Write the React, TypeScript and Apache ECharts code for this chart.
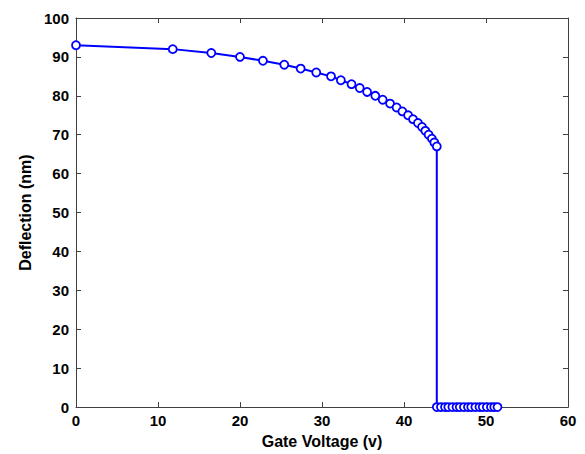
import React, { useEffect, useRef } from "react";
import * as echarts from "echarts";

const gateVoltage = [
  0, 11.8, 16.5, 20.0, 22.8, 25.4, 27.4, 29.3, 31.1, 32.3, 33.6, 34.6, 35.5, 36.5,
  37.4, 38.3, 39.1, 39.8, 40.5, 41.1, 41.7, 42.2, 42.6, 43.0, 43.4, 43.7, 44.0,
  44.0, 44.5, 45.0, 45.4, 45.9, 46.4, 46.8, 47.3, 47.8, 48.2, 48.7, 49.2, 49.6,
  50.1, 50.6, 51.0, 51.4,
];
const deflection = [
  93, 92, 91, 90, 89, 88, 87, 86, 85, 84, 83, 82, 81, 80,
  79, 78, 77, 76, 75, 74, 73, 72, 71, 70, 69, 68, 67,
  0, 0, 0, 0, 0, 0, 0, 0, 0, 0, 0, 0, 0,
  0, 0, 0, 0,
];
const xTitle = "Gate Voltage (v)";
const yTitle = "Deflection (nm)";

export default function App() {
  const ref = useRef<HTMLDivElement>(null);
  useEffect(() => {
    if (!ref.current) return;
    const chart = echarts.init(ref.current, null, { renderer: "svg" });
    const font = "Liberation Sans, Arial, sans-serif";
    const labelStyle = { color: "#000", fontSize: 15, fontWeight: "bold" as const, fontFamily: font };
    const titleStyle = { color: "#000", fontSize: 16, fontWeight: "bold" as const, fontFamily: font };
    const lineStyle = { color: "#404040", width: 1 };
    chart.setOption({
      animation: false,
      backgroundColor: "#fff",
      grid: { left: 76, right: 17, top: 18, bottom: 46, containLabel: false },
      xAxis: [
        {
          type: "value", min: 0, max: 60, interval: 10, position: "bottom",
          axisLine: { show: true, lineStyle, onZero: false },
          axisTick: { show: true, inside: true, length: 5, lineStyle },
          axisLabel: { ...labelStyle, margin: 6 },
          splitLine: { show: false },
          name: xTitle, nameLocation: "middle", nameGap: 25,
          nameTextStyle: titleStyle,
        },
        {
          type: "value", min: 0, max: 60, interval: 10, position: "top",
          axisLine: { show: true, lineStyle, onZero: false },
          axisTick: { show: true, inside: true, length: 5, lineStyle },
          axisLabel: { show: false }, splitLine: { show: false },
        },
      ],
      yAxis: [
        {
          type: "value", min: 0, max: 100, interval: 10, position: "left",
          axisLine: { show: true, lineStyle, onZero: false },
          axisTick: { show: true, inside: true, length: 5, lineStyle },
          axisLabel: { ...labelStyle, margin: 7 },
          splitLine: { show: false },
          name: yTitle, nameLocation: "middle", nameGap: 40, nameRotate: 90,
          nameTextStyle: titleStyle,
        },
        {
          type: "value", min: 0, max: 100, interval: 10, position: "right",
          axisLine: { show: true, lineStyle, onZero: false },
          axisTick: { show: true, inside: true, length: 5, lineStyle },
          axisLabel: { show: false }, splitLine: { show: false },
        },
      ],
      series: [
        {
          type: "line",
          xAxisIndex: 0, yAxisIndex: 0,
          data: gateVoltage.map((v, i) => [v, deflection[i]]),
          symbol: "circle",
          symbolSize: 8,
          showAllSymbol: true,
          lineStyle: { color: "#0000ff", width: 2 },
          itemStyle: { color: "#fff", borderColor: "#0000ff", borderWidth: 1.8 },
          clip: false,
        },
      ],
    });
    return () => chart.dispose();
  }, []);
  return <div ref={ref} style={{ width: 585, height: 454, position: "absolute", left: 0, top: 0 }} />;
}
